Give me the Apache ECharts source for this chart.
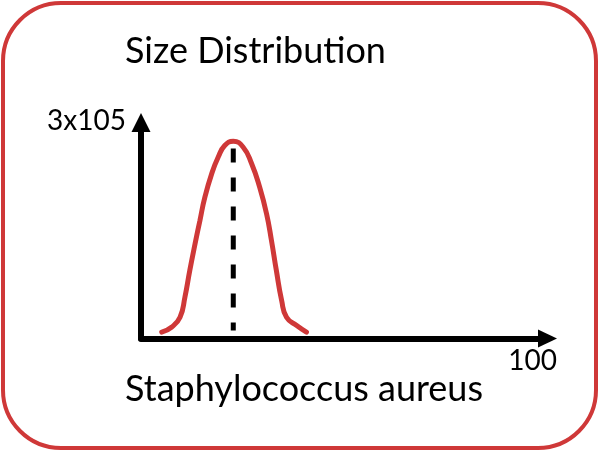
<!DOCTYPE html>
<html>
<head>
<meta charset="utf-8">
<script src="https://cdn.jsdelivr.net/npm/echarts@6/dist/echarts.min.js"></script>
<style>
  html, body { margin: 0; padding: 0; background: #fff; }
  #chart { width: 600px; height: 451px; }
</style>
</head>
<body>
<div id="chart"></div>
<script>
var titleText = 'Size Distribution';
var organism = 'Staphylococcus aureus';
var yMaxLabel = '3x105';
var xMaxLabel = '100';

var xMax = 100;
var yMax = 300000;

// size (x) vs count (y)
var sizes  = [5.1, 7.5, 9.6, 10.8, 12.0, 13.3, 14.5, 15.7, 17.4, 19.0, 20.6, 22.7,
              25.1, 27.2, 29.2, 30.9, 32.1, 33.3, 34.6, 35.8, 38.3, 40.7];
var counts = [8800, 15700, 29600, 57400, 94400, 131500, 164000, 196000, 229000, 252000, 268000, 274000,
              266000, 243000, 210000, 173000, 136000, 94400, 52800, 29600, 18000, 8800];

// dashed marker at the peak
var peakSize = 22.7;
var peakMarker = [264000, 11000];

var red = '#cf3838';

var curve = sizes.map(function (s, i) { return [s, counts[i]]; });
var marker = peakMarker.map(function (v) { return [peakSize, v]; });

var chart = echarts.init(document.getElementById('chart'));

var option = {
    animation: false,
    grid: { left: 141, right: 52.5, top: 122.5, bottom: 112.5 },
    xAxis: {
        type: 'value',
        min: 0,
        max: xMax,
        axisLine: {
            show: true,
            symbol: ['none', 'triangle'],
            symbolSize: [18, 19],
            lineStyle: { color: '#000', width: 6, cap: 'round' }
        },
        axisTick: { show: false },
        axisLabel: { show: false },
        splitLine: { show: false }
    },
    yAxis: {
        type: 'value',
        min: 0,
        max: yMax,
        axisLine: {
            show: true,
            symbol: ['none', 'triangle'],
            symbolSize: [19, 19],
            lineStyle: { color: '#000', width: 6, cap: 'round' }
        },
        axisTick: { show: false },
        axisLabel: { show: false },
        splitLine: { show: false }
    },
    series: [
        {
            type: 'line',
            data: marker,
            symbol: 'none',
            lineStyle: { color: '#000', width: 5, type: [14, 15] },
            z: 1
        },
        {
            type: 'line',
            data: curve,
            smooth: 0.5,
            symbol: 'none',
            lineStyle: { color: red, width: 5, cap: 'round' },
            z: 2
        }
    ],
    graphic: [
        {
            type: 'rect',
            shape: { x: 3, y: 3, width: 593, height: 445, r: 58 },
            style: { fill: 'none', stroke: red, lineWidth: 4 },
            z: -1
        },
        {
            type: 'text',
            style: {
                text: titleText, x: 125, y: 51,
                font: '36px Lato', fill: '#000',
                textAlign: 'left', textVerticalAlign: 'middle'
            }
        },
        {
            type: 'text',
            style: {
                text: organism, x: 125, y: 389,
                font: '36px Lato', fill: '#000',
                textAlign: 'left', textVerticalAlign: 'middle'
            }
        },
        {
            type: 'text',
            style: {
                text: yMaxLabel, x: 126, y: 121,
                font: '28px Lato', fill: '#000',
                textAlign: 'right', textVerticalAlign: 'middle'
            }
        },
        {
            type: 'text',
            style: {
                text: xMaxLabel, x: 557, y: 361,
                font: '28px Lato', fill: '#000',
                textAlign: 'right', textVerticalAlign: 'middle'
            }
        }
    ]
};

chart.setOption(option);
</script>
</body>
</html>
